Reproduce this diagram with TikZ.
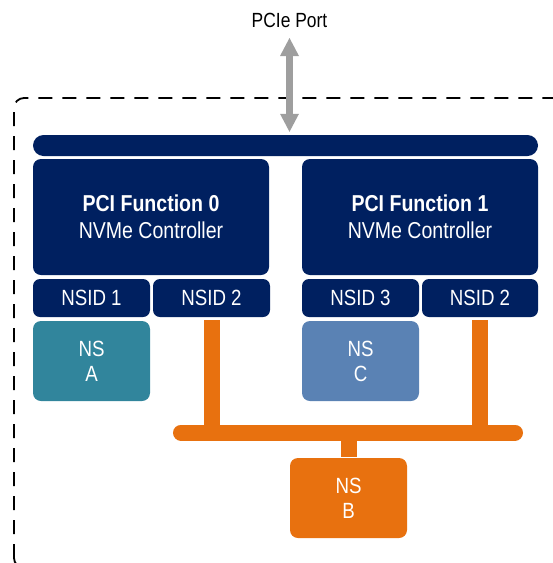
\documentclass[tikz,border=0pt]{standalone}
\usepackage{fontspec}
\setmainfont{Liberation Sans}[FakeStretch=0.85]
\usetikzlibrary{arrows.meta}
\definecolor{navy}{RGB}{0,32,96}
\definecolor{tealns}{RGB}{49,133,156}
\definecolor{steelns}{RGB}{90,130,180}
\definecolor{orng}{RGB}{232,113,15}
\definecolor{arrgray}{RGB}{158,158,158}
\begin{document}
\begin{tikzpicture}[x=1pt,y=-1pt,
  box/.style={rectangle, rounded corners=8pt, fill=#1, text=white, inner sep=0pt, align=center},
  box/.default=navy,
  funcbox/.style={box, minimum width=236pt, minimum height=116pt, font=\fontsize{23}{27.5}\selectfont},
  nsidbox/.style={box, rounded corners=7pt, minimum width=117pt, minimum height=38pt, font=\fontsize{22}{25}\selectfont},
  nsbox/.style={box=#1, minimum width=117pt, minimum height=80pt, font=\fontsize{22}{25}\selectfont},
  orangeline/.style={draw=orng, line width=16pt},
  portarrow/.style={draw=arrgray, line width=7pt, {Triangle[width=19pt,length=18pt,line width'=0pt]}-{Triangle[width=19pt,length=18pt,line width'=0pt]}},
  enclosure/.style={draw=black, line width=1.8pt, dash pattern=on 14pt off 10pt, rounded corners=10pt}
]
\useasboundingbox (0,0) rectangle (553,563);
\clip (0,0) rectangle (553,563);

% enclosure
\draw[enclosure] (14,568) rectangle (566,98);

% label
\node[anchor=base, inner sep=0pt, font=\fontsize{20.5}{24}\selectfont] (pcie) at (289.5,27) {PCIe Port};

% bus bar
\node[box, rounded corners=10.5pt, minimum width=505pt, minimum height=21pt] (bar) at (285.5,145.5) {};

% functions
\node[funcbox] (f0) at (151,217) {\textbf{PCI Function 0}\\NVMe Controller};
\node[funcbox] (f1) at (420,217) {\textbf{PCI Function 1}\\NVMe Controller};

% NSIDs
\node[nsidbox] (nsid1) at (91.5,298) {NSID 1};
\node[nsidbox] (nsid2a) at (211.5,298) {NSID 2};
\node[nsidbox] (nsid3) at (360.5,298) {NSID 3};
\node[nsidbox, minimum width=116pt] (nsid2b) at (480,298) {NSID 2};

% namespaces
\node[nsbox=tealns] (nsA) at (91.5,361) {NS\\A};
\node[nsbox=steelns] (nsC) at (360.5,361) {NS\\C};
\node[nsbox=orng] (nsB) at (348.5,498) {NS\\B};

% shared namespace bus
\coordinate (sbus) at (348.5,432.5);
\draw[orangeline] ([yshift=-3pt]nsid2a.south) -- (nsid2a.south |- sbus);
\draw[orangeline] ([yshift=-3pt]nsid2b.south) -- (nsid2b.south |- sbus);
\draw[orangeline, line cap=round] ([xshift=-167.5pt]sbus) -- ([xshift=166.5pt]sbus);
\draw[orangeline] (sbus) -- ([yshift=1pt]nsB.north);

% port arrow
\draw[portarrow] ([yshift=-11pt]pcie.base) -- ([yshift=3pt]pcie.base |- bar.north);
\end{tikzpicture}
\end{document}
